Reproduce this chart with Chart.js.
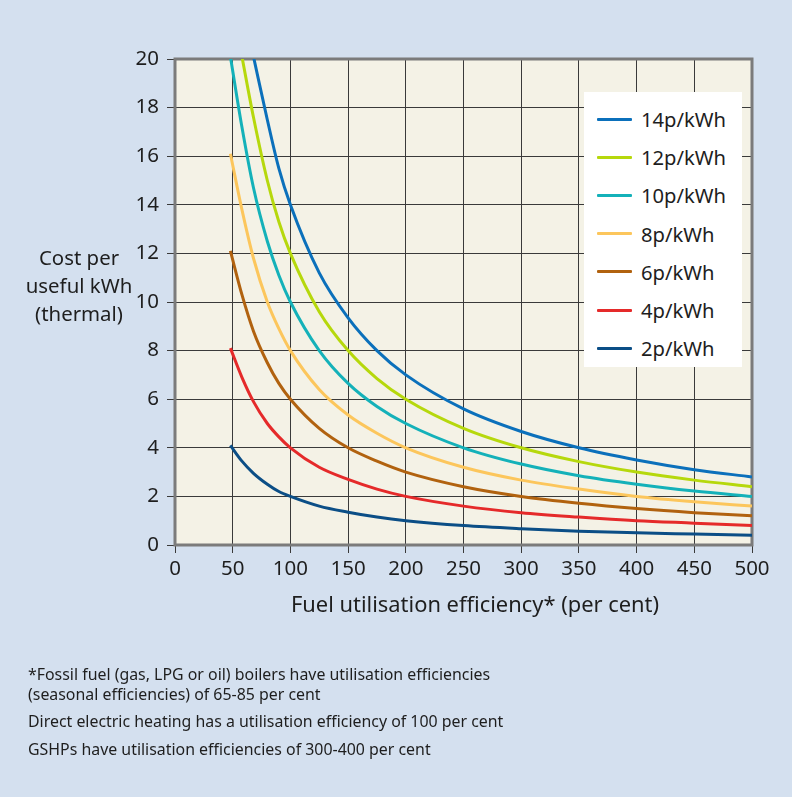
<!DOCTYPE html>
<html>
<head>
<meta charset="utf-8">
<script src="https://cdn.jsdelivr.net/npm/chart.js@4.4.1/dist/chart.umd.min.js"></script>
<style>
  html, body { margin: 0; padding: 0; }
  body { width: 792px; height: 797px; background: #d4e0ef; position: relative; overflow: hidden;
         font-family: "Noto Sans", "Open Sans", sans-serif; color: #1e1e1e; }
  #wrap { position: absolute; left: 0; top: 0; width: 792px; height: 797px; }
  #ytitle { position: absolute; left: 9px; top: 243px; width: 140px; text-align: center;
            font-size: 20.4px; line-height: 28px; }
  #xtitle { position: absolute; left: 275px; top: 590px; width: 400px; text-align: center;
            font-size: 21.9px; line-height: 28px; }
  #legend { position: absolute; left: 584px; top: 92px; width: 158px; height: 275px; background: #fff;
            box-sizing: border-box; padding-top: 8px; }
  .item { height: 38.2px; display: flex; align-items: center; font-size: 20.2px; }
  .swatch { width: 35px; height: 3px; margin-left: 13px; margin-right: 9px; border-radius: 1px; }
  #notes { position: absolute; left: 28px; top: 665px; font-size: 15.9px; line-height: 19.5px; }
  #notes p { margin: 0 0 8px 0; }
</style>
</head>
<body>
<div id="wrap"><canvas id="costChart" width="792" height="797"></canvas></div>
<div id="ytitle">Cost per<br>useful kWh<br>(thermal)</div>
<div id="xtitle">Fuel utilisation efficiency* (per cent)</div>
<div id="legend"></div>
<div id="notes">
  <p>*Fossil fuel (gas, LPG or oil) boilers have utilisation efficiencies<br>(seasonal efficiencies) of 65-85 per cent</p>
  <p>Direct electric heating has a utilisation efficiency of 100 per cent</p>
  <p>GSHPs have utilisation efficiencies of 300-400 per cent</p>
</div>
<script>
const efficiency = [48, 58, 68, 80, 90, 100, 125, 150, 175, 200, 250, 300, 350, 400, 450, 500];

const p14 = [null, null, 20.1, 17.5, 15.5, 14.0, 11.2, 9.35, 8.0, 7.0, 5.6, 4.67, 4.0, 3.5, 3.1, 2.8];
const p12 = [null, 20.1, 17.6, 15.0, 13.3, 12.0, 9.6, 8.0, 6.85, 6.0, 4.8, 4.0, 3.43, 3.0, 2.67, 2.4];
const p10 = [20.1, 17.2, 14.7, 12.5, 11.1, 10.0, 8.0, 6.65, 5.7, 5.0, 4.0, 3.33, 2.85, 2.5, 2.22, 2.0];
const p8  = [16.1, 13.8, 11.8, 10.0, 8.9, 8.0, 6.4, 5.35, 4.6, 4.0, 3.2, 2.67, 2.3, 2.0, 1.78, 1.6];
const p6  = [12.1, 10.3, 8.8, 7.5, 6.65, 6.0, 4.8, 4.0, 3.45, 3.0, 2.4, 2.0, 1.72, 1.5, 1.33, 1.2];
const p4  = [8.1, 6.9, 5.9, 5.0, 4.45, 4.0, 3.2, 2.7, 2.3, 2.0, 1.6, 1.33, 1.15, 1.0, 0.9, 0.8];
const p2  = [4.1, 3.45, 2.95, 2.5, 2.2, 2.0, 1.6, 1.35, 1.15, 1.0, 0.8, 0.67, 0.57, 0.5, 0.45, 0.4];

const seriesNames = ['14p/kWh', '12p/kWh', '10p/kWh', '8p/kWh', '6p/kWh', '4p/kWh', '2p/kWh'];
const seriesValues = [p14, p12, p10, p8, p6, p4, p2];
const seriesColors = ['#0b70bb', '#b6d80c', '#14b1b9', '#fcc65c', '#b1620f', '#e52a2a', '#0b4e86'];

const textColor = '#1e1e1e';
const gridColor = '#3a3a3a';

function toPoints(values) {
    return efficiency.map((x, i) => ({ x: x, y: values[i] })).filter(pt => pt.y !== null);
}

const plotFrame = {
    id: 'plotFrame',
    beforeDraw(chart) {
        const a = chart.chartArea;
        const ctx = chart.ctx;
        ctx.save();
        ctx.fillStyle = '#f4f2e6';
        ctx.fillRect(a.left, a.top, a.right - a.left, a.bottom - a.top);
        ctx.restore();
    },
    beforeDatasetsDraw(chart) {
        const a = chart.chartArea;
        const ctx = chart.ctx;
        ctx.save();
        ctx.strokeStyle = '#7b7b7b';
        ctx.lineWidth = 3;
        ctx.strokeRect(a.left, a.top, a.right - a.left, a.bottom - a.top);
        ctx.restore();
    }
};

document.addEventListener('DOMContentLoaded', function() {
    const ctx = document.getElementById('costChart').getContext('2d');
    new Chart(ctx, {
        type: 'line',
        data: {
            datasets: seriesNames.map((name, i) => ({
                label: name,
                data: toPoints(seriesValues[i]),
                borderColor: seriesColors[i],
                backgroundColor: seriesColors[i],
                borderWidth: 3,
                pointRadius: 0,
                cubicInterpolationMode: 'monotone',
                fill: false
            }))
        },
        options: {
            responsive: false,
            animation: false,
            layout: { padding: { left: 0, top: 59, right: 40, bottom: 180 } },
            plugins: {
                legend: { display: false },
                tooltip: { enabled: false }
            },
            scales: {
                x: {
                    type: 'linear',
                    min: 0,
                    max: 500,
                    ticks: { stepSize: 50, color: textColor, padding: 4,
                             font: { family: 'Noto Sans', size: 20.5 } },
                    grid: { color: gridColor, lineWidth: 1, tickLength: 8, tickColor: gridColor },
                    border: { display: false },
                    afterFit(scale) { scale.height = 72; }
                },
                y: {
                    min: 0,
                    max: 20,
                    ticks: { stepSize: 2, color: textColor, padding: 8,
                             font: { family: 'Noto Sans', size: 20.5 } },
                    grid: { color: gridColor, lineWidth: 1, tickLength: 8, tickColor: gridColor },
                    border: { display: false },
                    afterFit(scale) { scale.width = 175; }
                }
            }
        },
        plugins: [plotFrame]
    });

    const legend = document.getElementById('legend');
    seriesNames.forEach((name, i) => {
        const item = document.createElement('div');
        item.className = 'item';
        item.innerHTML = '<span class="swatch" style="background:' + seriesColors[i] + '"></span>' + name;
        legend.appendChild(item);
    });
});
</script>
</body>
</html>
